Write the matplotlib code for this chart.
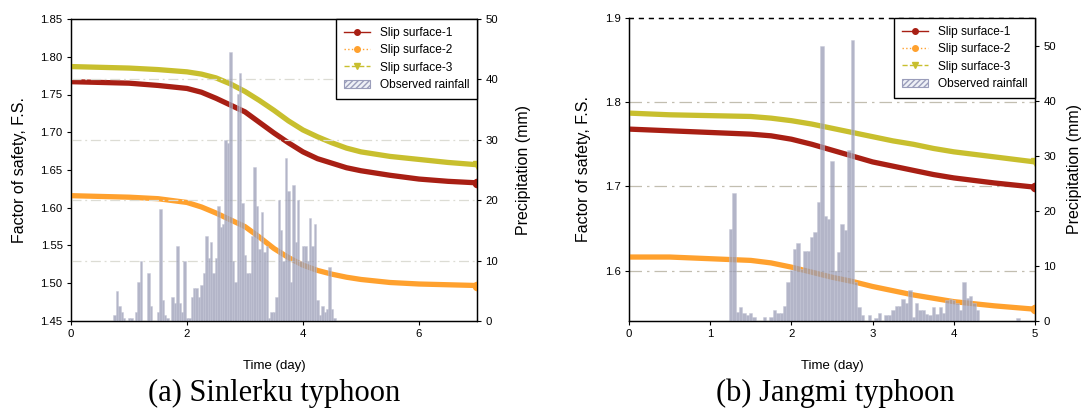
import numpy as np
import matplotlib
matplotlib.use('Agg')
import matplotlib.pyplot as plt
from matplotlib.lines import Line2D
from matplotlib.patches import Patch
from matplotlib import font_manager as fm

avail = {f.name for f in fm.fontManager.ttflist}
SANS = 'Liberation Sans' if 'Liberation Sans' in avail else 'DejaVu Sans'
NARROW = 'Liberation Sans Narrow' if 'Liberation Sans Narrow' in avail else SANS
SERIF = 'Liberation Serif' if 'Liberation Serif' in avail else 'DejaVu Serif'
plt.rcParams['font.family'] = [SANS, 'DejaVu Sans']

# ---------------- data: (a) Sinlerku typhoon ----------------
a_days = [0, 0.5, 1, 1.5, 2, 2.25, 2.5, 2.75, 3, 3.25, 3.5, 3.75, 4, 4.25,
          4.5, 4.75, 5, 5.5, 6, 6.5, 7]
a_s1 = [1.767, 1.766, 1.765, 1.762, 1.758, 1.753, 1.745, 1.736, 1.727, 1.713,
        1.699, 1.686, 1.674, 1.665, 1.659, 1.653, 1.649, 1.643, 1.638, 1.635, 1.633]
a_s2 = [1.616, 1.615, 1.614, 1.612, 1.607, 1.601, 1.593, 1.584, 1.575, 1.561,
        1.546, 1.534, 1.524, 1.517, 1.512, 1.508, 1.505, 1.501, 1.499, 1.498, 1.497]
a_s3 = [1.787, 1.786, 1.785, 1.783, 1.780, 1.777, 1.772, 1.764, 1.754, 1.742,
        1.729, 1.715, 1.703, 1.694, 1.686, 1.679, 1.674, 1.668, 1.664, 1.660, 1.657]
a_rain_start_hour = 18
a_rain = [1, 5, 2.5, 1.5, 0.5, 0, 0.5, 0.5, 0, 1.5, 6.5, 10, 0, 0, 8, 2.5, 0, 0,
          1.5, 18.5, 3.5, 1, 0.5, 0, 4, 3, 12.5, 3, 1.5, 10, 0.5, 0.5, 4, 5.5,
          5.5, 4, 6, 8, 14, 10.5, 13, 8, 10.5, 19, 15.5, 16, 30, 29.5, 44.5, 10,
          6.5, 37.5, 41, 19.5, 11, 8, 8, 14, 25.5, 19, 12, 18, 11.5, 12.5, 0.5,
          1.5, 1.5, 4, 20, 15, 10, 27, 21.5, 6.5, 22.5, 13, 20, 10, 12.5, 12.5,
          10, 17, 12.5, 16, 3.5, 1, 2.5, 1.5, 2, 9, 2, 0.5]

# ---------------- data: (b) Jangmi typhoon ----------------
b_days = [0, 0.5, 1, 1.5, 1.75, 2, 2.25, 2.5, 2.75, 3, 3.25, 3.5, 3.75, 4, 4.5, 5]
b_s1 = [1.768, 1.766, 1.764, 1.762, 1.760, 1.756, 1.750, 1.743, 1.736, 1.729,
        1.724, 1.719, 1.714, 1.710, 1.704, 1.699]
b_s2 = [1.616, 1.616, 1.614, 1.612, 1.609, 1.604, 1.598, 1.592, 1.587, 1.581,
        1.576, 1.571, 1.567, 1.563, 1.558, 1.554]
b_s3 = [1.787, 1.785, 1.784, 1.783, 1.781, 1.778, 1.774, 1.769, 1.764, 1.759,
        1.754, 1.750, 1.745, 1.741, 1.735, 1.729]
b_rain_start_hour = 30
b_rain = [16.7, 23.2, 1.7, 2.6, 1.5, 1.1, 1.5, 0.7, 0, 0, 0.7, 0, 0.7, 2.0, 1.5,
          1.5, 2.7, 7.0, 9.2, 13.1, 14.1, 9.5, 12.7, 12.7, 15.2, 16.1, 21.6, 50,
          19, 18.6, 29, 9, 12.5, 17.6, 16.5, 31, 51, 7, 2.5, 1, 0, 1, 0, 0.5, 1.5,
          0, 1, 1, 2, 2.7, 2.7, 4, 3.3, 5.6, 0.7, 3.2, 2, 2, 1.3, 1, 2.5, 1.2, 2.5,
          1.5, 3.9, 4, 3.9, 3.2, 2, 7, 4.2, 4.6, 3.3, 2, 0, 0, 0, 0, 0, 0, 0, 0,
          0, 0, 0, 0.6]

labels = ['Slip surface-1', 'Slip surface-2', 'Slip surface-3', 'Observed rainfall']
C1, C2, C3 = '#a81f14', '#ffa12e', '#c8bf2e'
BAR = '#9a9db6'

fig = plt.figure(figsize=(10.87, 4.13), dpi=100)
W, H = 1087, 413


def axes_px(x0, x1, y0, y1):
    return fig.add_axes([x0 / W, 1 - y1 / H, (x1 - x0) / W, (y1 - y0) / H])


def draw_panel(ax, days, s1, s2, s3, rain_start, rain):
    for s, c, m in ((s1, C1, 'o'), (s2, C2, 'o'), (s3, C3, 'v')):
        ax.plot(days, s, color=c, lw=3.8, solid_capstyle='butt', zorder=3)
        ax.plot(days[-1:], s[-1:], color=c, marker=m, ms=6, ls='none', zorder=3)
    ax2 = ax.twinx()
    t = (rain_start + np.arange(len(rain))) / 24.0
    ax2.bar(t, rain, width=1 / 24.0, color=BAR, alpha=0.75, edgecolor='#c4c6d6',
            linewidth=0.4, zorder=2)
    return ax2


def legend(ax2, fs):
    hs = [Line2D([], [], color=C1, ls='-', lw=1.0, marker='o', ms=4),
          Line2D([], [], color=C2, ls=':', lw=1.0, marker='o', ms=4),
          Line2D([], [], color=C3, ls='--', lw=1.0, marker='v', ms=4.5),
          Patch(facecolor='#eef0f6', edgecolor='#9a9dba', hatch='//////', lw=0.8)]
    lg = ax2.legend(hs, labels, loc='upper right', borderaxespad=0, fontsize=fs,
                    fancybox=False, framealpha=1, edgecolor='black',
                    handlelength=2.2, handletextpad=0.8, labelspacing=0.45,
                    borderpad=0.65)
    lg.get_frame().set_linewidth(1.0)
    lg.set_zorder(10)
    return lg


def style(ax, ax2, rpad):
    for a in (ax, ax2):
        a.tick_params(direction='out', length=3, width=0.8, labelsize=8.2, pad=3)
        for sp in a.spines.values():
            sp.set_linewidth(0.9)
    ax.set_xlabel('Time (day)', fontsize=9.5, family=[NARROW, 'DejaVu Sans'], labelpad=15)
    ax.set_ylabel('Factor of safety, F.S.', fontsize=11.5, labelpad=10)
    ax2.set_ylabel('Precipitation (mm)', fontsize=11.5, labelpad=rpad)


# ---------- panel (a) ----------
axA = axes_px(71, 477, 19, 321)
axA2 = draw_panel(axA, a_days, a_s1, a_s2, a_s3, a_rain_start_hour, a_rain)
axA.set_xlim(0, 7)
axA.set_ylim(1.45, 1.85)
axA.set_xticks([0, 2, 4, 6])
axA.set_yticks(np.round(np.arange(1.45, 1.851, 0.05), 2))
axA.yaxis.set_major_formatter(matplotlib.ticker.FormatStrFormatter('%.2f'))
axA2.set_ylim(0, 50)
axA2.set_yticks([0, 10, 20, 30, 40, 50])
for v in [10, 20, 30, 40]:
    axA2.axhline(v, color='#dcdcd4', lw=0.9, ls=(0, (8, 3, 1.5, 3)), zorder=0)
style(axA, axA2, 13)
legend(axA2, 8.6)

# ---------- panel (b) ----------
axB = axes_px(629, 1035, 18, 321)
axB2 = draw_panel(axB, b_days, b_s1, b_s2, b_s3, b_rain_start_hour, b_rain)
axB.set_xlim(0, 5)
axB.set_ylim(1.54, 1.9)
axB.set_xticks([0, 1, 2, 3, 4, 5])
axB.set_yticks([1.6, 1.7, 1.8, 1.9])
axB.yaxis.set_major_formatter(matplotlib.ticker.FormatStrFormatter('%.1f'))
for v in [1.6, 1.7, 1.8]:
    axB.axhline(v, color='#c2beb0', lw=0.9, ls=(0, (10, 4, 2, 4)), zorder=0)
axB2.set_ylim(0, 55)
axB2.set_yticks([0, 10, 20, 30, 40, 50])
style(axB, axB2, 8)
for a in (axB, axB2):
    a.spines['top'].set_linestyle((0, (3, 5)))
legend(axB2, 8.6)

# ---------- captions ----------
fig.text(274 / W, 1 - 393 / H, '(a) Sinlerku typhoon', ha='center', va='center',
         fontsize=22, family=[SERIF, 'DejaVu Serif'])
fig.text(835 / W, 1 - 393 / H, '(b) Jangmi typhoon', ha='center', va='center',
         fontsize=22, family=[SERIF, 'DejaVu Serif'])

fig.savefig('out.png', dpi=100)
